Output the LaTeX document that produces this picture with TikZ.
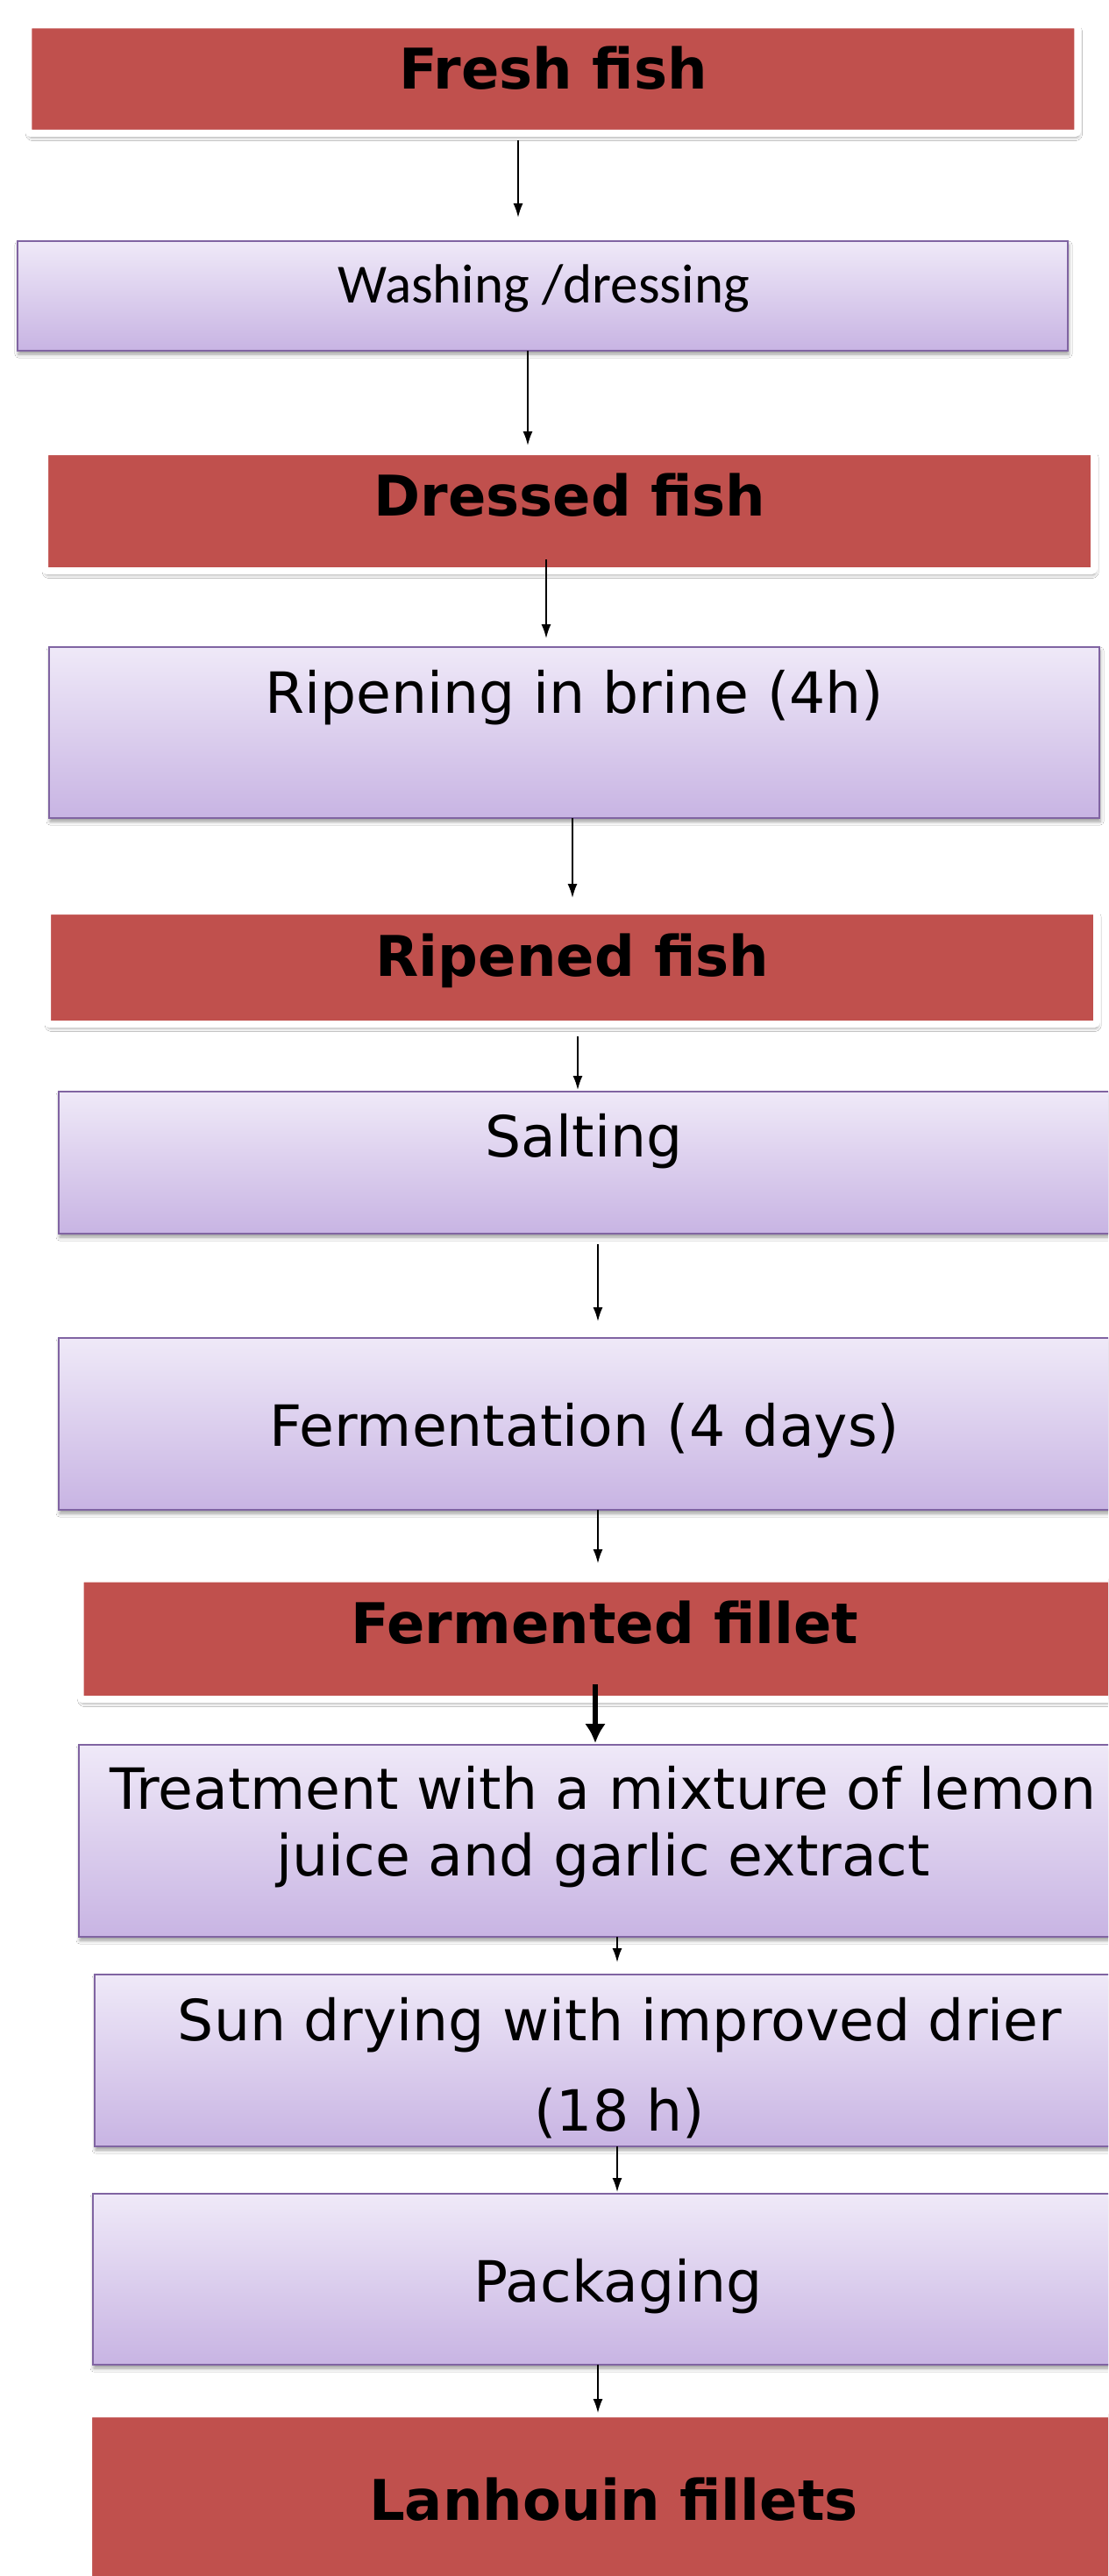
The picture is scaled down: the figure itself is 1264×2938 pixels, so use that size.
\documentclass[tikz,border=0pt]{standalone}
\usepackage{fontspec}
\setmainfont{DejaVu Sans}
\newfontfamily\calfont{Carlito}
\usetikzlibrary{arrows.meta,calc,shadows.blur}
\definecolor{cred}{HTML}{C0504D}
\definecolor{ptop}{HTML}{EFE9F8}
\definecolor{pbot}{HTML}{C8B4E3}
\definecolor{pline}{HTML}{8064A2}
\begin{document}
\begin{tikzpicture}[x=0.5pt,y=-0.5pt,
  redbox/.style={rectangle, inner sep=0pt, outer sep=0pt, fill=cred, draw=white, line width=4pt,
    rounded corners=1.5pt, minimum width=598.5pt,
    blur shadow={shadow xshift=0.6pt, shadow yshift=-2.2pt, shadow blur radius=2pt, shadow opacity=45}},
  purplebox/.style={rectangle, inner sep=0pt, outer sep=0pt, top color=ptop, bottom color=pbot,
    draw=pline, line width=1pt, minimum width=599pt,
    blur shadow={shadow xshift=0.5pt, shadow yshift=-2pt, shadow blur radius=2pt, shadow opacity=40}},
  headtxt/.style={anchor=base, inner sep=0pt, font=\bfseries\fontsize{32pt}{38pt}\selectfont},
  bodytxt/.style={anchor=base, inner sep=0pt, font=\fontsize{32.4pt}{38pt}\selectfont},
  arr/.style={line width=0.8pt, -{Latex[length=8pt,width=5.5pt]}},
  thickarr/.style={line width=3pt, -{Latex[length=11pt,width=12pt]}}
]
\useasboundingbox (0,0) rectangle (1264,2938);
\clip (0,0) rectangle (1264,2938);
\fill[white] (0,0) rectangle (1264,2938);

% boxes
\node[redbox, minimum height=61.75pt] (f1) at (630.75,90.25) {};
\node[purplebox, minimum height=62.5pt] (p1) at (619,337.5) {};
\node[redbox, minimum height=68pt] (f2) at (649.5,583) {};
\node[purplebox, minimum height=97.5pt] (p2) at (655,835.5) {};
\node[redbox, minimum height=64.5pt] (f3) at (652.5,1103.5) {};
\node[purplebox, minimum height=81pt] (p3) at (666,1326) {};
\node[purplebox, minimum height=98pt] (p4) at (666,1624) {};
\node[redbox, minimum height=68.75pt] (f4) at (690,1869.25) {};
\node[purplebox, minimum height=109.5pt] (p5) at (689,2099.5) {};
\node[purplebox, minimum height=98pt] (p6) at (707,2350) {};
\node[purplebox, minimum height=97.5pt] (p7) at (705,2599.5) {};
\node[redbox, minimum height=125pt] (f5) at (699.5,2878) {};

% texts
\node[headtxt] (t1) at (631,102) {Fresh fish};
\node[anchor=base, inner sep=0pt, font=\calfont\fontsize{31.5pt}{38pt}\selectfont] (t2) at (620,345) {Washing /dressing};
\node[headtxt] (t3) at (650,588) {Dressed fish};
\node[bodytxt] (t4) at (655,813) {Ripening in brine (4h)};
\node[headtxt] (t5) at (653,1113) {Ripened fish};
\node[bodytxt] (t6) at (666,1319) {Salting};
\node[bodytxt] (t7) at (667,1649) {Fermentation (4 days)};
\node[headtxt] (t8) at (690,1874) {Fermented fillet};
\node[bodytxt] (t9) at (688,2063) {\begin{tabular}[t]{@{}c@{}}Treatment with a mixture of lemon\\ juice and garlic extract\end{tabular}};
\node[anchor=base, inner sep=0pt, font=\fontsize{32.4pt}{51.5pt}\selectfont] (t10) at (707,2327) {\begin{tabular}[t]{@{}c@{}}Sun drying with improved drier\\ (18 h)\end{tabular}};
\node[bodytxt] (t11) at (705,2625) {Packaging};
\node[headtxt] (t12) at (700,2874) {Lanhouin fillets};

% connectors
\draw[arr] ($(f1.south)+(-39.75,8)$) -- ($(p1.north)+(-28,-27)$);
\draw[arr] ($(p1.south)+(-17,0)$) -- ($(f2.north)+(-47.5,-7)$);
\draw[arr] ($(f2.south)+(-26.5,-13)$) -- ($(p2.north)+(-32,-10)$);
\draw[arr] ($(p2.south)+(-2,0)$) -- ($(f3.north)+(0.5,-15)$);
\draw[arr] ($(f3.south)+(6.5,14)$) -- ($(p3.north)+(-7,-2)$);
\draw[arr] ($(p3.south)+(16,12)$) -- ($(p4.north)+(16,-19)$);
\draw[arr] ($(p4.south)+(16,0)$) -- ($(f4.north)+(-8,-17.5)$);
\draw[thickarr] ($(f4.south)+(-11,-17)$) -- ($(p5.north)+(-10,-2)$);
\draw[arr] ($(p5.south)+(15,0)$) -- ($(p6.north)+(-3,-14)$);
\draw[arr] ($(p6.south)+(-3,0)$) -- ($(p7.north)+(-1,-2)$);
\draw[arr] ($(p7.south)+(-23,0)$) -- ($(f5.north)+(-17.5,-1)$);
\end{tikzpicture}
\end{document}
